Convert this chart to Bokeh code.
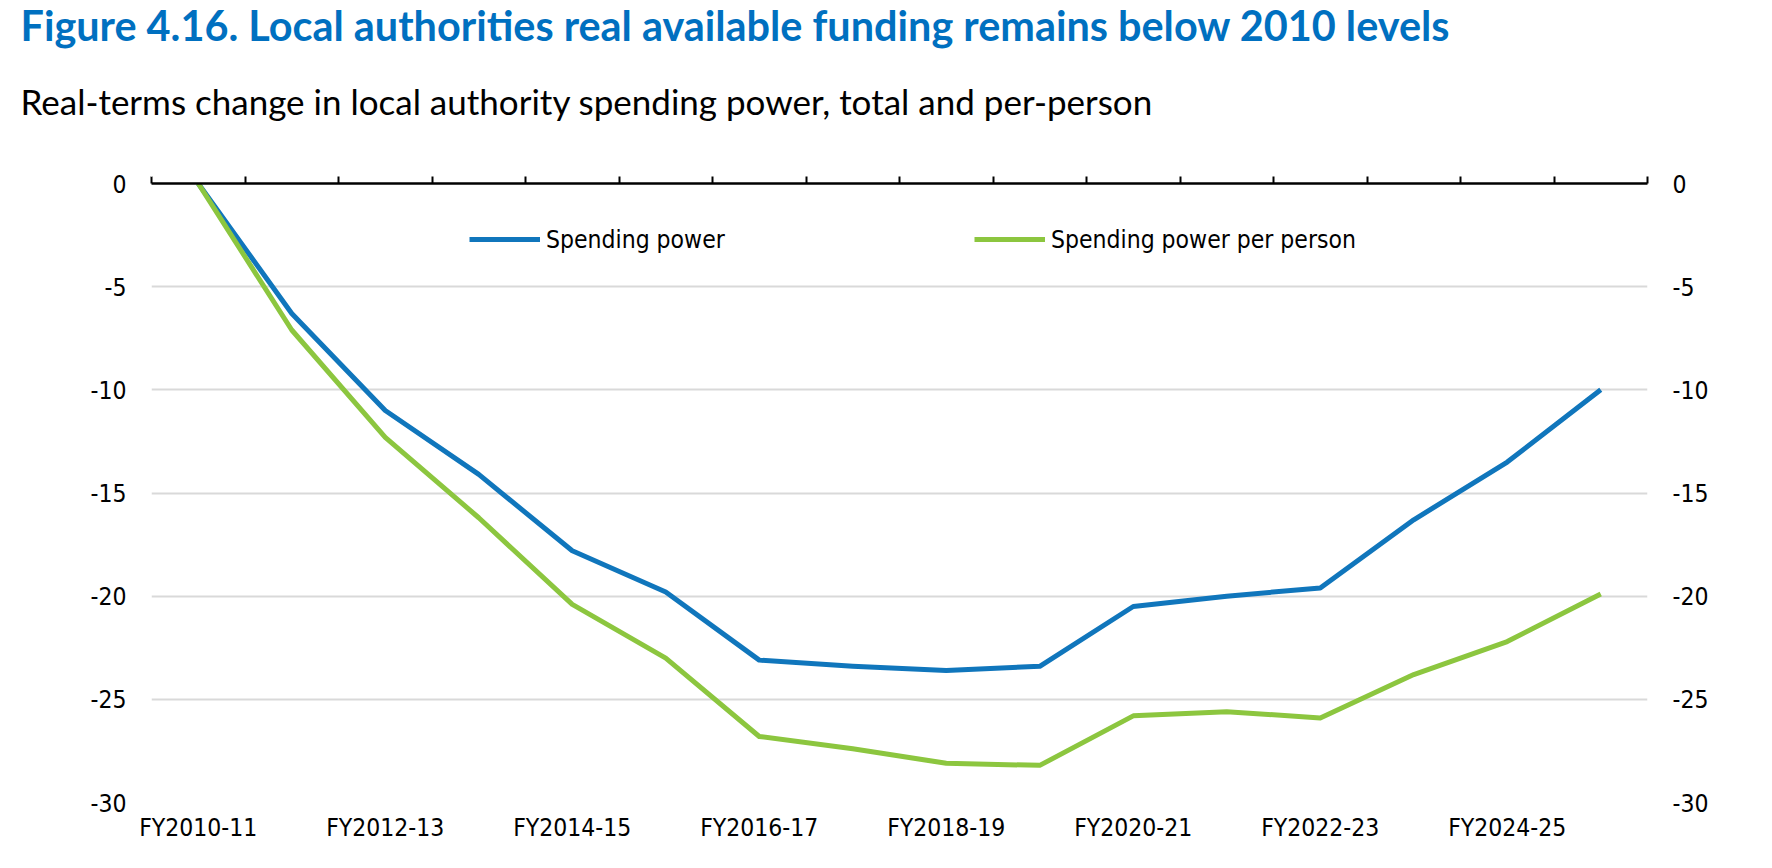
from bokeh.plotting import figure
from bokeh.models import (LinearAxis, FixedTicker, Title, Legend, LegendItem,
                          ColumnDataSource)
from bokeh.embed import file_html
from bokeh.resources import INLINE

# Financial years (one category each)
years = ["FY2010-11", "FY2011-12", "FY2012-13", "FY2013-14", "FY2014-15",
         "FY2015-16", "FY2016-17", "FY2017-18", "FY2018-19", "FY2019-20",
         "FY2020-21", "FY2021-22", "FY2022-23", "FY2023-24", "FY2024-25",
         "FY2025-26"]

# Real-terms change since 2010-11, %
spending_power = [0.0, -6.3, -11.0, -14.1, -17.8, -19.8, -23.1, -23.4, -23.6,
                  -23.4, -20.5, -20.0, -19.6, -16.3, -13.5, -10.0]
spending_power_per_person = [0.0, -7.1, -12.3, -16.2, -20.4, -23.0, -26.8, -27.4,
                             -28.1, -28.2, -25.8, -25.6, -25.9, -23.8, -22.2, -19.9]

y_ticks = [-30, -25, -20, -15, -10, -5, 0]

title_text = "Figure 4.16. Local authorities real available funding remains below 2010 levels"
subtitle_text = "Real-terms change in local authority spending power, total and per-person"

BLUE = "#1076BC"
GREEN = "#8CC63F"
TITLE_BLUE = "#0070C0"
NARROW = "DejaVu Sans Condensed"
SMALL = "24.5px"

n = len(years)
# each category occupies one unit; points sit in the middle of their slot
x_pos = [i + 0.5 for i in range(n)]
source = ColumnDataSource(data=dict(x=x_pos, total=spending_power,
                                    per_person=spending_power_per_person))

p = figure(width=1772, height=868, x_range=(0, n), y_range=(-30, 0),
           output_backend="svg", toolbar_location=None,
           min_border_left=151, min_border_right=125,
           min_border_top=183, min_border_bottom=66)
p.outline_line_color = None
p.background_fill_color = "white"
p.border_fill_color = "white"

# horizontal gridlines only
p.xgrid.visible = False
p.ygrid.ticker = FixedTicker(ticks=[t for t in y_ticks if t != 0])
p.ygrid.grid_line_color = "#d9d9d9"
p.ygrid.grid_line_width = 2

# bottom axis: labels for every other year, no line or ticks
xb = p.xaxis[0]
label_pos = x_pos[::2]
xb.ticker = FixedTicker(ticks=label_pos)
xb.major_label_overrides = {pos: years[i * 2] for i, pos in enumerate(label_pos)}
xb.axis_line_color = None
xb.major_tick_line_color = None
xb.minor_tick_line_color = None
xb.major_tick_out = 0
xb.major_label_standoff = 10
xb.major_label_text_font = NARROW
xb.major_label_text_font_size = SMALL
xb.major_label_text_color = "black"


def style_y(ax):
    ax.ticker = FixedTicker(ticks=y_ticks)
    ax.major_label_overrides = {t: str(t) for t in y_ticks}
    ax.axis_line_color = None
    ax.major_tick_line_color = None
    ax.minor_tick_line_color = None
    ax.major_tick_out = 0
    ax.major_label_standoff = 25
    ax.major_label_text_font = NARROW
    ax.major_label_text_font_size = SMALL
    ax.major_label_text_color = "black"


style_y(p.yaxis[0])
right_axis = LinearAxis()
style_y(right_axis)
p.add_layout(right_axis, "right")

# zero line across the top with category-boundary ticks pointing up
top_axis = LinearAxis(ticker=FixedTicker(ticks=list(range(n + 1))))
top_axis.major_label_overrides = {i: "" for i in range(n + 1)}
top_axis.major_label_text_font_size = "0px"
top_axis.axis_line_color = "black"
top_axis.axis_line_width = 2.5
top_axis.major_tick_line_color = "black"
top_axis.major_tick_line_width = 2
top_axis.major_tick_out = 7
top_axis.major_tick_in = 0
top_axis.minor_tick_out = 0
top_axis.minor_tick_line_color = None
top_axis.major_label_standoff = 0
p.add_layout(top_axis, "above")

# blank band between the zero line and the sub-heading
gap_axis = LinearAxis(ticker=FixedTicker(ticks=[0]))
gap_axis.major_label_overrides = {0: ""}
gap_axis.major_label_text_font_size = "0px"
gap_axis.axis_line_color = None
gap_axis.major_tick_line_color = "white"
gap_axis.major_tick_line_width = 1
gap_axis.minor_tick_line_color = None
gap_axis.major_tick_out = 23
gap_axis.major_tick_in = 0
gap_axis.minor_tick_out = 0
gap_axis.major_label_standoff = 0
p.add_layout(gap_axis, "above")

# sub-heading, then the heading on top
p.add_layout(Title(text=subtitle_text, text_font="Lato", text_font_size="35px",
                   text_font_style="normal", text_color="black",
                   offset=-131, standoff=64), "above")
p.title.text = title_text
p.title.text_font = "Lato"
p.title.text_font_style = "bold"
p.title.text_font_size = "41.4px"
p.title.text_color = TITLE_BLUE
p.title.offset = -131
p.title.standoff = -9

r_total = p.line("x", "total", source=source, line_color=BLUE, line_width=5,
                 line_join="round")
r_pp = p.line("x", "per_person", source=source, line_color=GREEN, line_width=5,
              line_join="round")


def make_legend(label, renderer, loc):
    lg = Legend(items=[LegendItem(label=label, renderers=[renderer])],
                location=loc, orientation="horizontal",
                glyph_width=71, glyph_height=30, label_standoff=6,
                padding=0, margin=0, spacing=0,
                border_line_color=None, background_fill_alpha=0,
                label_text_font=NARROW, label_text_font_size=SMALL,
                label_text_color="black")
    p.add_layout(lg)


make_legend("Spending power", r_total, (318, 548))
make_legend("Spending power per person", r_pp, (823, 548))

open("out.html", "w").write(file_html(p, INLINE))
